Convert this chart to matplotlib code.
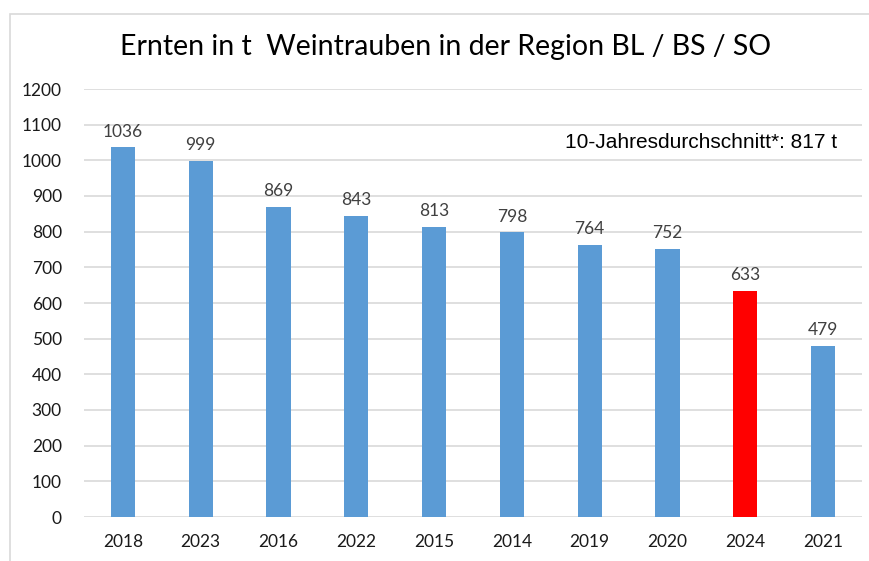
import matplotlib.pyplot as plt
from matplotlib.patches import Rectangle

# Daten
jahre = ["2018", "2023", "2016", "2022", "2015", "2014", "2019", "2020", "2024", "2021"]
ernte = [1036, 999, 869, 843, 813, 798, 764, 752, 633, 479]
hervorheben = "2024"

blau = "#5B9BD5"
rot = "#FF0000"
farben = [rot if j == hervorheben else blau for j in jahre]

plt.rcParams["font.family"] = ["Lato", "DejaVu Sans"]

fig = plt.figure(figsize=(8.7, 5.61), dpi=100)
ax = fig.add_axes([84 / 870, 1 - 517 / 561, (862 - 84) / 870, (517 - 89) / 561])

x = range(len(jahre))
bars = ax.bar(x, ernte, width=0.31, color=farben, zorder=3)

for xi, v in zip(x, ernte):
    ax.text(xi, v + 22, str(v), ha="center", va="bottom", fontsize=12.5,
            color="#404040")

ax.set_xlim(-0.5, len(jahre) - 0.5)
ax.set_ylim(0, 1200)
ax.set_yticks(range(0, 1201, 100))
ax.set_xticks(list(x))
ax.set_xticklabels(jahre)
ax.tick_params(axis="both", length=0, labelsize=12.5, colors="#1a1a1a")
ax.tick_params(axis="x", pad=12)
ax.tick_params(axis="y", pad=16)
ax.grid(axis="y", color="#D9D9D9", linewidth=1.2, zorder=0)
for s in ax.spines.values():
    s.set_visible(False)

fig.text(446 / 870, 1 - 47 / 561, "Ernten in t  Weintrauben in der Region BL / BS / SO",
         ha="center", va="center", fontsize=20.5, color="#000000")

ax.text(565 / 870, 1 - 142 / 561, "10-Jahresdurchschnitt*: 817 t",
        transform=fig.transFigure, ha="left", va="center", fontsize=15,
        family=["Liberation Sans", "DejaVu Sans"], color="#000000")

# Rahmen des Diagramms (oben und links sichtbar)
fig.patches.append(Rectangle((10 / 870, -0.1), 1.2, 1.1 - 14 / 561,
                             transform=fig.transFigure, fill=False,
                             edgecolor="#D9D9D9", linewidth=1.2))

fig.savefig("out.png", dpi=100)
